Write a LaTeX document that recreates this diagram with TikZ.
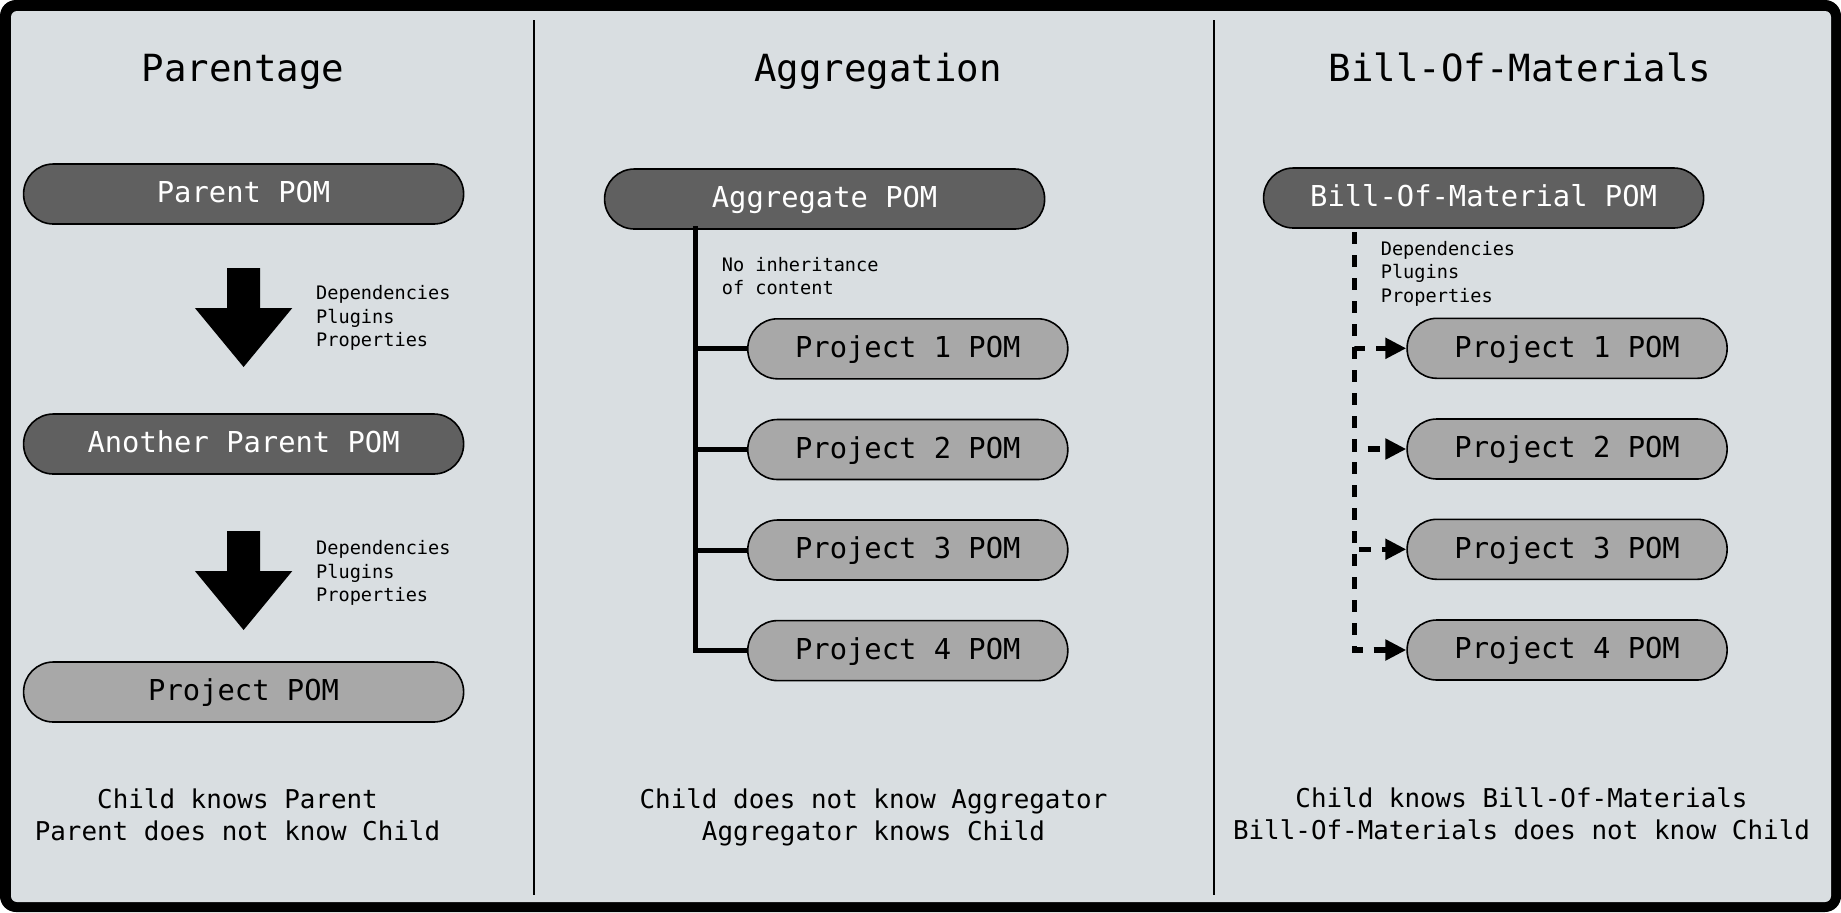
\documentclass[tikz,border=0pt]{standalone}
\usepackage{fontspec}
\setmonofont{DejaVu Sans Mono}
\usetikzlibrary{arrows.meta}
\definecolor{bg}{RGB}{217,222,225}
\definecolor{darkbox}{RGB}{96,96,96}
\definecolor{lightbox}{RGB}{168,168,168}
\tikzset{
  pom/.style={draw=black, line width=0.8pt, rounded corners=14.9pt, minimum height=30pt, inner sep=0pt, text height=10.5pt, text depth=1.6pt, font=\ttfamily\fontsize{14.4}{17}\selectfont},
  darkpom/.style={pom, fill=darkbox, text=white, minimum width=220pt},
  lightpom/.style={pom, fill=lightbox, text=black, minimum width=220pt},
  childpom/.style={pom, fill=lightbox, text=black, minimum width=160pt},
  coltitle/.style={font=\ttfamily\fontsize{18.7}{22}\selectfont, anchor=base},
  note/.style={font=\ttfamily\fontsize{9.3}{11.75}\selectfont, align=left, anchor=west, inner sep=0pt},
  caption/.style={font=\ttfamily\fontsize{12.95}{15.85}\selectfont, align=center, inner sep=0pt},
  divider/.style={line width=1pt},
  tree/.style={line width=2.5pt},
  bomlink/.style={line width=2.6pt, dash pattern=on 6pt off 5.5pt, -{Triangle[length=10.5pt,width=10pt]}},
  blockdown/.pic={\fill[black] (-16.5,0) -- (16.5,0) -- (16.5,40) -- (48.7,40) -- (0,99) -- (-48.7,40) -- (-16.5,40) -- cycle;}
}
\begin{document}
\begin{tikzpicture}[x=0.5pt,y=-0.5pt]
\useasboundingbox (0,0) rectangle (1841,912);
\fill[white] (0,0) rectangle (1841,912);
\fill[black, rounded corners=8pt] (0,0) rectangle (1841,912);
\fill[bg, rounded corners=3pt] (11,11) rectangle (1831,902);

% dividers
\draw[divider] (534,20) -- (534,895);
\draw[divider] (1214,20) -- (1214,895);

% titles
\node[coltitle] (t1) at (243,81) {Parentage};
\node[coltitle] (t2) at (878,81) {Aggregation};
\node[coltitle] (t3) at (1520,81) {Bill-Of-Materials};

% Parentage
\node[darkpom] (parent) at (243.6,194) {Parent POM};
\node[darkpom] (another) at (243.6,444) {Another Parent POM};
\node[lightpom] (project) at (243.6,692) {Project POM};
\pic at (243.6,268) {blockdown};
\pic at (243.6,531) {blockdown};
\node[note] (n1) at (315.8,318) {Dependencies\\Plugins\\Properties};
\node[note] (n2) at (315.8,573) {Dependencies\\Plugins\\Properties};
\node[caption] (c1) at (237.5,815) {Child knows Parent\\Parent does not know Child};

% Aggregation
\node[darkpom] (agg) at (824.6,199) {Aggregate POM};
\node[childpom] (a1) at (907.8,348.8) {Project 1 POM};
\node[childpom] (a2) at (907.8,449.5) {Project 2 POM};
\node[childpom] (a3) at (907.8,550) {Project 3 POM};
\node[childpom] (a4) at (907.8,650.6) {Project 4 POM};
\coordinate (aggroot) at (695.7,226);
\foreach \k in {1,2,3,4} { \draw[tree] (aggroot) |- (a\k.west); }
\node[note] (n3) at (721.4,276) {No inheritance\\of content};
\node[caption] (c2) at (873.5,817.5) {Child does not know Aggregator\\Aggregator knows Child};

% Bill-Of-Materials
\node[darkpom] (bom) at (1483.6,198) {Bill-Of-Material POM};
\node[childpom] (b1) at (1567.1,348.3) {Project 1 POM};
\node[childpom] (b2) at (1567.1,449) {Project 2 POM};
\node[childpom] (b3) at (1567.1,549.3) {Project 3 POM};
\node[childpom] (b4) at (1567.1,650) {Project 4 POM};
\coordinate (bomroot) at (1354.6,232);
\foreach \k in {1,2,3,4} { \draw[bomlink] (bomroot) |- (b\k.west); }
\node[note] (n4) at (1380.4,273.5) {Dependencies\\Plugins\\Properties};
\node[caption] (c3) at (1521.5,813.5) {Child knows Bill-Of-Materials\\Bill-Of-Materials does not know Child};
\end{tikzpicture}
\end{document}
